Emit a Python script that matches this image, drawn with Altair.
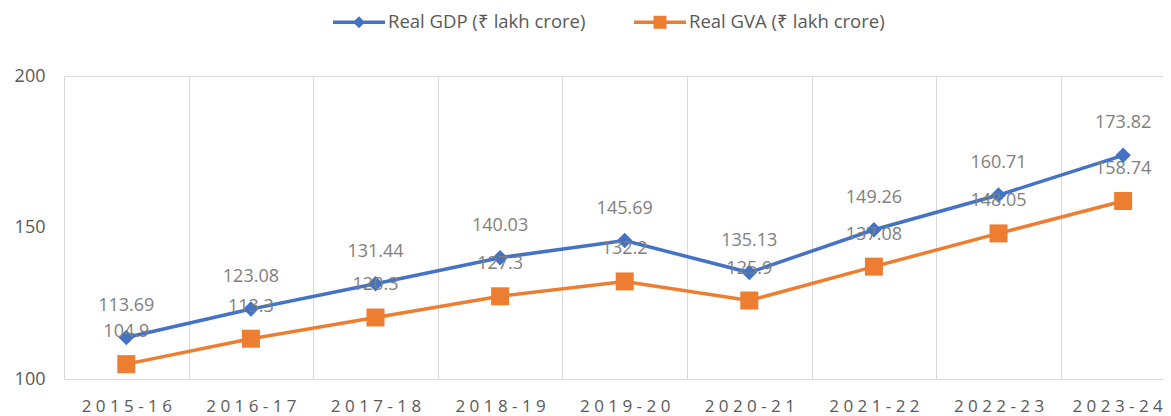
import json
import altair as alt
import pandas as pd

years = ["2015-16", "2016-17", "2017-18", "2018-19", "2019-20",
         "2020-21", "2021-22", "2022-23", "2023-24"]
gdp = [113.69, 123.08, 131.44, 140.03, 145.69, 135.13, 149.26, 160.71, 173.82]
gva = [104.9, 113.3, 120.3, 127.3, 132.2, 125.9, 137.08, 148.05, 158.74]
series_names = ["Real GDP (₹ lakh crore)", "Real GVA (₹ lakh crore)"]
colors = ["#4472C4", "#ED7D31"]
marker_shapes = ["diamond", "square"]
marker_sizes = [240, 324]
y_ticks = [100, 150, 200]

# legend symbols: a line with a marker in the middle (unit [-1, 1] paths)
legend_paths = [
    "M-1,-0.067L1,-0.067L1,0.067L-1,0.067Z M0,-0.23L0.23,0L0,0.23L-0.23,0Z",
    "M-1,-0.067L1,-0.067L1,0.067L-1,0.067Z M-0.25,-0.25L0.25,-0.25L0.25,0.25L-0.25,0.25Z",
]

rows = []
for i, yr in enumerate(years):
    for name, vals in zip(series_names, [gdp, gva]):
        rows.append({"idx": i, "year": yr, "series": name,
                     "value": vals[i], "label": f"{vals[i]:g}"})
df = pd.DataFrame(rows)

spaced = json.dumps([" ".join(y) for y in years])
x_vals = [k * 0.5 - 0.5 for k in range(2 * len(years) + 1)]
x_max = 8.320
last_idx = len(years) - 1

x_enc = alt.X(
    "idx:Q",
    title=None,
    scale=alt.Scale(domain=[-0.5, x_max], nice=False, zero=False),
    axis=alt.Axis(
        values=x_vals,
        labelExpr=f"{spaced}[datum.value] || ''",
        grid=True,
        gridColor={"condition": {"test": "datum.value % 1 === 0", "value": "transparent"},
                   "value": "#d9d9d9"},
        gridWidth=1,
        ticks=False,
        tickSize=0,
        domain=True,
        domainColor="#d9d9d9",
        domainWidth=1,
        labelFontSize=17,
        labelColor="#595959",
        labelPadding=19,
        labelOffset={"condition": {"test": f"datum.value === {last_idx}", "value": -6},
                     "value": 0},
        labelOverlap=False,
        labelFlush=False,
        labelBound=False,
    ),
)
y_enc = alt.Y(
    "value:Q",
    title=None,
    scale=alt.Scale(domain=[100, 200], nice=False, zero=False),
    axis=alt.Axis(values=y_ticks, grid=False, domain=False, ticks=False,
                  labelPadding=19, labelFontSize=18, labelColor="#595959"),
)

base = alt.Chart(df).encode(x=x_enc, y=y_enc)

layers = []
for name, c in zip(series_names, colors):
    layers.append(base.transform_filter(alt.datum.series == name)
                  .mark_line(color=c, strokeWidth=3.5))
for name, c, shp, sz in zip(series_names, colors, marker_shapes, marker_sizes):
    layers.append(base.transform_filter(alt.datum.series == name)
                  .mark_point(shape=shp, size=sz, filled=True, color=c, opacity=1))

leg = alt.Legend(title=None, orient="none", legendX=269, legendY=-80,
                 direction="horizontal", symbolSize=2704, symbolStrokeWidth=0,
                 labelOffset=3, columnPadding=48, labelFontSize=18.5,
                 labelColor="#595959", padding=0, symbolOpacity=1, labelLimit=400)
legend_layer = base.mark_point(filled=True, opacity=0).encode(
    color=alt.Color("series:N", scale=alt.Scale(domain=series_names, range=colors), legend=leg),
    shape=alt.Shape("series:N", scale=alt.Scale(domain=series_names, range=legend_paths), legend=leg),
)
layers.append(legend_layer)

text_layer = base.mark_text(dy=-32, fontSize=18, color="#7f7f7f").encode(text="label:N")
layers.append(text_layer)

chart = alt.layer(*layers).properties(
    width=1099,
    height=303,
    autosize=alt.AutoSizeParams(type="none"),
    padding={"left": 56, "top": 68, "right": 0, "bottom": 36},
    background="white",
).configure_view(stroke=None).configure(font="Open Sans")

chart.save("out.html", embed_options={"renderer": "svg", "actions": False})
